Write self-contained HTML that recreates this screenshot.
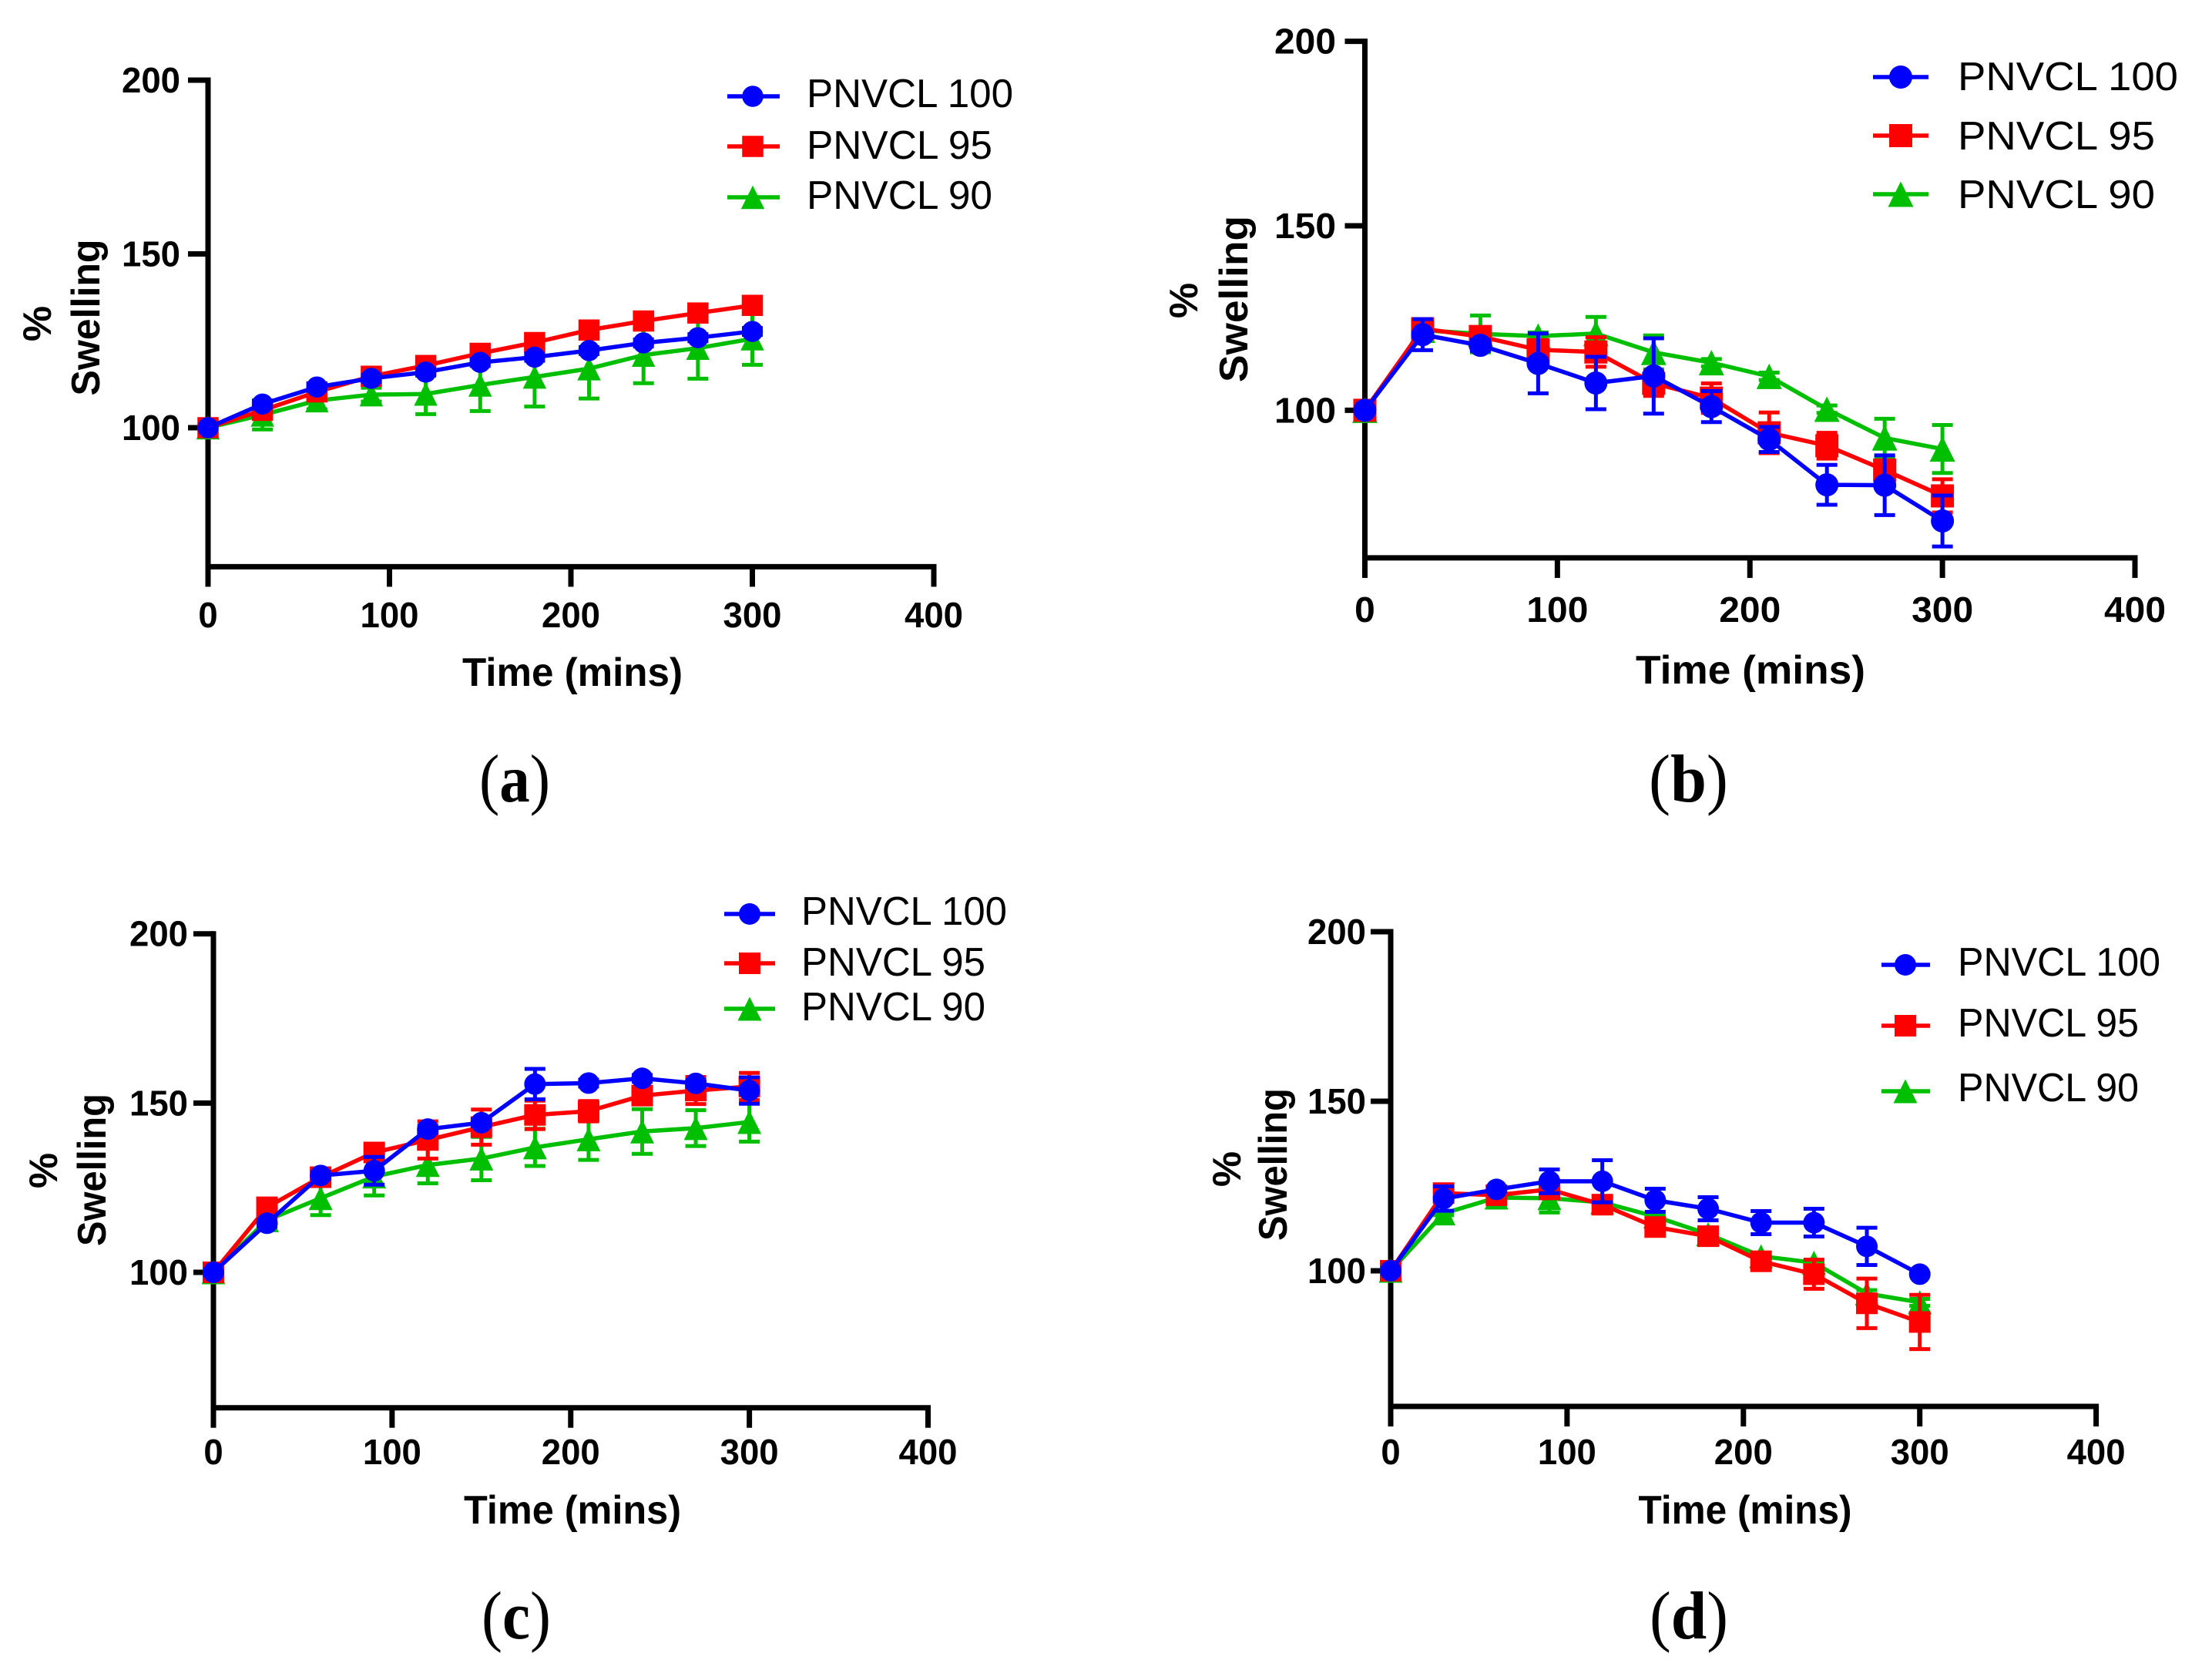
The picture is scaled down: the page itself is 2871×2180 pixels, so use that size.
<!DOCTYPE html>
<html lang="en">
<head>
<meta charset="utf-8">
<title>Swelling over time for PNVCL formulations</title>
<style>
html,body{margin:0;padding:0;background:#fff;width:2871px;height:2180px;overflow:hidden}
svg{display:block}
text{fill:#000;font-family:"Liberation Sans",Arial,sans-serif}
.title{font-weight:700;font-size:52px}
.legend{font-size:52px}
.tick{font-weight:700;font-size:46px}
.caption{font-family:"Liberation Serif",serif;font-weight:700;font-size:88px}
.caption tspan{font-weight:400}
</style>
</head>
<body>
<svg id="figure" xmlns="http://www.w3.org/2000/svg" width="2871" height="2180" viewBox="0 0 2871 2180">
  <rect x="0" y="0" width="2871" height="2180" fill="#fff"/>

  <g id="panel-a">
    <text class="title" x="743" y="890" text-anchor="middle" textLength="286" lengthAdjust="spacingAndGlyphs">Time (mins)</text>
    <text class="title" transform="translate(129 412) rotate(-90)" text-anchor="middle" textLength="203" lengthAdjust="spacingAndGlyphs">Swelling</text>
    <text class="title" transform="translate(66 420) rotate(-90)" text-anchor="middle">%</text>
    <text class="legend" x="1047" y="139" textLength="268" lengthAdjust="spacingAndGlyphs">PNVCL 100</text>
    <text class="legend" x="1047" y="206" textLength="241" lengthAdjust="spacingAndGlyphs">PNVCL 95</text>
    <text class="legend" x="1047" y="271" textLength="241" lengthAdjust="spacingAndGlyphs">PNVCL 90</text>
    <text class="caption" x="622" y="1040" textLength="92" lengthAdjust="spacingAndGlyphs"><tspan>(</tspan>a<tspan>)</tspan></text>
  </g>

  <g id="panel-b">
    <text class="title" x="2272" y="887" text-anchor="middle" textLength="298" lengthAdjust="spacingAndGlyphs">Time (mins)</text>
    <text class="title" transform="translate(1619 388) rotate(-90)" text-anchor="middle" textLength="216" lengthAdjust="spacingAndGlyphs">Swelling</text>
    <text class="title" transform="translate(1554 390) rotate(-90)" text-anchor="middle">%</text>
    <text class="legend" x="2541" y="117" textLength="286" lengthAdjust="spacingAndGlyphs">PNVCL 100</text>
    <text class="legend" x="2541" y="194" textLength="256" lengthAdjust="spacingAndGlyphs">PNVCL 95</text>
    <text class="legend" x="2541" y="270" textLength="256" lengthAdjust="spacingAndGlyphs">PNVCL 90</text>
    <text class="caption" x="2140" y="1040" textLength="103" lengthAdjust="spacingAndGlyphs"><tspan>(</tspan>b<tspan>)</tspan></text>
  </g>

  <g id="panel-c">
    <text class="title" x="743" y="1977" text-anchor="middle" textLength="282" lengthAdjust="spacingAndGlyphs">Time (mins)</text>
    <text class="title" transform="translate(137 1518) rotate(-90)" text-anchor="middle" textLength="198" lengthAdjust="spacingAndGlyphs">Swelling</text>
    <text class="title" transform="translate(74 1519) rotate(-90)" text-anchor="middle">%</text>
    <text class="legend" x="1040" y="1200" textLength="267" lengthAdjust="spacingAndGlyphs">PNVCL 100</text>
    <text class="legend" x="1040" y="1266" textLength="239" lengthAdjust="spacingAndGlyphs">PNVCL 95</text>
    <text class="legend" x="1040" y="1324" textLength="239" lengthAdjust="spacingAndGlyphs">PNVCL 90</text>
    <text class="caption" x="625" y="2126" textLength="90" lengthAdjust="spacingAndGlyphs"><tspan>(</tspan>c<tspan>)</tspan></text>
  </g>

  <g id="panel-d">
    <text class="title" x="2265" y="1977" text-anchor="middle" textLength="277" lengthAdjust="spacingAndGlyphs">Time (mins)</text>
    <text class="title" transform="translate(1670 1511) rotate(-90)" text-anchor="middle" textLength="198" lengthAdjust="spacingAndGlyphs">Swelling</text>
    <text class="title" transform="translate(1610 1517) rotate(-90)" text-anchor="middle">%</text>
    <text class="legend" x="2541" y="1266" textLength="263" lengthAdjust="spacingAndGlyphs">PNVCL 100</text>
    <text class="legend" x="2541" y="1345" textLength="235" lengthAdjust="spacingAndGlyphs">PNVCL 95</text>
    <text class="legend" x="2541" y="1429" textLength="235" lengthAdjust="spacingAndGlyphs">PNVCL 90</text>
    <text class="caption" x="2141" y="2126" textLength="102" lengthAdjust="spacingAndGlyphs"><tspan>(</tspan>d<tspan>)</tspan></text>
  </g>
</svg>

<script>
// ---- Shared axis data ----
const timeMinutes = [0, 30, 60, 90, 120, 150, 180, 210, 240, 270, 300];
const xTickValues = [0, 100, 200, 300, 400];
const yTickValues = [100, 150, 200];
const seriesNames = ['pnvcl-100', 'pnvcl-95', 'pnvcl-90'];

// ---- Panel (a) ----
const panelAValues100 = [100, 106.8, 111.7, 114.2, 116, 118.8, 120.3, 122.2, 124.4, 125.9, 127.7];
const panelAErrors100 = [0, 1, 1, 1, 1, 1, 1, 1, 1, 1, 1];
const panelAValues95 = [100, 105, 110.3, 114.8, 117.9, 121.4, 124.5, 128.1, 130.7, 133, 135.2];
const panelAErrors95 = [0, 1, 1, 1, 1, 1, 1, 1, 1, 1, 1];
const panelAValues90 = [100, 103.7, 107.8, 109.5, 109.7, 112.3, 114.6, 117, 120.9, 122.9, 125.6];
const panelAErrors90 = [0, 4.2, 2.5, 2, 5.8, 7.5, 8.5, 8.6, 8.1, 8.8, 7.5];

// ---- Panel (b) ----
const panelBValues100 = [100, 120.5, 117.6, 112.7, 107.4, 109.3, 101, 92.1, 79.8, 79.7, 70];
const panelBErrors100 = [0, 4.2, 1.5, 8.1, 7.1, 10.2, 4.2, 3.4, 5.4, 8.1, 6.9];
const panelBValues95 = [100, 122.1, 120, 116.4, 115.8, 107.3, 103.3, 93.9, 90.4, 83.8, 76.8];
const panelBErrors95 = [0, 2.5, 1, 2.5, 4, 3.4, 4, 5.5, 3.5, 2, 4.5];
const panelBValues90 = [100, 121.7, 120.7, 120.1, 120.8, 115.7, 112.9, 109.2, 100.3, 92.5, 89.5];
const panelBErrors90 = [0, 1, 5, 1, 4.5, 4.6, 1, 1, 1, 5.2, 6.5];

// ---- Panel (c) ----
const panelCValues100 = [100, 114.5, 128.6, 130, 142.3, 144.2, 155.6, 155.9, 157.3, 155.8, 153.7];
const panelCErrors100 = [0, 1, 1, 4.1, 1, 1, 4.5, 1, 1, 1, 3.9];
const panelCValues95 = [100, 119.2, 128.1, 135.4, 139.1, 142.9, 146.5, 147.6, 152.2, 153.7, 154.9];
const panelCErrors95 = [0, 1, 1, 1, 5.5, 5.2, 4.2, 3, 2.5, 4, 4];
const panelCValues90 = [100, 115.4, 121.9, 128.3, 131.7, 133.6, 136.9, 139.3, 141.6, 142.6, 144.4];
const panelCErrors90 = [0, 1, 5, 5.6, 5.4, 6.4, 5.5, 6.1, 6.6, 5.3, 5.8];

// ---- Panel (d) ----
const panelDValues100 = [100, 121.3, 124, 126.4, 126.4, 120.8, 118.3, 114.2, 114.2, 107.2, 99];
const panelDErrors100 = [0, 3.6, 0.5, 3.5, 6.2, 3.4, 3.4, 3.4, 4.1, 5.5, 0];
const panelDValues95 = [100, 122.9, 122.3, 124, 119.5, 112.9, 110.2, 102.8, 99, 90.4, 84.9];
const panelDErrors95 = [0, 2, 1, 1, 1, 1, 1, 1, 4.3, 7.3, 8];
const panelDValues90 = [100, 116.9, 121.6, 121.4, 120.2, 116, 110.8, 104.3, 102.4, 93.3, 90.7];
const panelDErrors90 = [0, 0.5, 0.5, 4.2, 0.5, 0.5, 0.5, 1, 0.5, 1, 1];

// ---- Layout (separate from data) ----
const SVG_NS = 'http://www.w3.org/2000/svg';
const Y_MIN = 60;
const COLORS = {'pnvcl-100': '#0000ff', 'pnvcl-95': '#ff0000', 'pnvcl-90': '#00bf00'};
const SHAPES = {'pnvcl-100': 'circle', 'pnvcl-95': 'square', 'pnvcl-90': 'triangle'};

const panelLayouts = {
  a: {id: 'panel-a', x0: 270, x400: 1212, y100: 555, y200: 104, tickRight: 234, tickBase: 814, tickW: 76, mk: 27.5,
      legX1: 944, legX2: 1012, legM: 977, legY: [125, 190, 256]},
  b: {id: 'panel-b', x0: 1771.5, x400: 2771, y100: 532.4, y200: 53.6, tickRight: 1734, tickBase: 807, tickW: 80, mk: 30,
      legX1: 2431, legX2: 2503, legM: 2467, legY: [100, 176, 252]},
  c: {id: 'panel-c', x0: 277, x400: 1204.5, y100: 1651, y200: 1211.7, tickRight: 244, tickBase: 1900, tickW: 76, mk: 28,
      legX1: 940, legX2: 1006, legM: 973, legY: [1186, 1250, 1309]},
  d: {id: 'panel-d', x0: 1805, x400: 2720.6, y100: 1649, y200: 1209, tickRight: 1773, tickBase: 1900, tickW: 76, mk: 28,
      legX1: 2442, legX2: 2505, legM: 2473, legY: [1252, 1331, 1416]}
};

function svgEl(tag, attrs, parent) {
  const el = document.createElementNS(SVG_NS, tag);
  for (const k in attrs) el.setAttribute(k, attrs[k]);
  parent.appendChild(el);
  return el;
}

function drawMarker(parent, shape, cx, cy, size, color) {
  const h = size / 2;
  let el;
  if (shape === 'circle') {
    el = svgEl('circle', {cx: cx, cy: cy, r: h, fill: color}, parent);
  } else if (shape === 'square') {
    el = svgEl('rect', {x: cx - h, y: cy - h, width: size, height: size, fill: color}, parent);
  } else {
    const t = h + 1.5;
    el = svgEl('polygon', {points: cx + ',' + (cy - t) + ' ' + (cx + t) + ',' + (cy + t) + ' ' + (cx - t) + ',' + (cy + t), fill: color}, parent);
  }
  
  
  return el;
}

function drawSeries(parent, name, values, errors, xScale, yScale, mk) {
  const color = COLORS[name];
  const g = svgEl('g', {}, parent);
  
  

  values.forEach(function (v, i) {
    const x = xScale(timeMinutes[i]);
    const e = errors[i];
    if (e <= 0) return;
    const eb = svgEl('path', {
      d: 'M' + x + ' ' + yScale(v + e) + 'V' + yScale(v - e) +
         'M' + (x - 13.5) + ' ' + yScale(v + e) + 'H' + (x + 13.5) +
         'M' + (x - 13.5) + ' ' + yScale(v - e) + 'H' + (x + 13.5),
      stroke: color, 'stroke-width': 5, fill: 'none'
    }, g);
    
    
  });

  const pts = values.map(function (v, i) { return xScale(timeMinutes[i]) + ',' + yScale(v); }).join(' ');
  const line = svgEl('polyline', {points: pts, fill: 'none', stroke: color, 'stroke-width': 5.5, 'stroke-linejoin': 'round'}, g);
  
  

  values.forEach(function (v, i) {
    drawMarker(g, SHAPES[name], xScale(timeMinutes[i]), yScale(v), mk, color);
  });
}

function drawPanel(layout, values100, errors100, values95, errors95, values90, errors90) {
  const root = document.getElementById(layout.id);
  const xScale = function (v) { return layout.x0 + v * (layout.x400 - layout.x0) / 400; };
  const yScale = function (v) { return layout.y100 - (v - 100) * (layout.y100 - layout.y200) / 100; };
  const axisBottom = yScale(Y_MIN);

  const yAxis = svgEl('line', {x1: layout.x0, x2: layout.x0, y1: yScale(200) - 3.5, y2: axisBottom + 3.5, stroke: '#000', 'stroke-width': 7}, root);
  
  
  const xAxis = svgEl('line', {x1: xScale(0) - 3.5, x2: xScale(400) + 3.5, y1: axisBottom, y2: axisBottom, stroke: '#000', 'stroke-width': 7}, root);
  
  

  xTickValues.forEach(function (v) {
    const t = svgEl('line', {x1: xScale(v), x2: xScale(v), y1: axisBottom, y2: axisBottom + 26, stroke: '#000', 'stroke-width': 7}, root);
    
    
    const label = svgEl('text', {'class': 'tick', x: xScale(v), y: layout.tickBase, 'text-anchor': 'middle', textLength: layout.tickW * String(v).length / 3, lengthAdjust: 'spacingAndGlyphs'}, root);
    label.textContent = String(v);
    
    
  });

  yTickValues.forEach(function (v) {
    const t = svgEl('line', {x1: layout.x0 - 26, x2: layout.x0, y1: yScale(v), y2: yScale(v), stroke: '#000', 'stroke-width': 7}, root);
    
    
    const label = svgEl('text', {'class': 'tick', x: layout.tickRight, y: yScale(v) + 16, 'text-anchor': 'end', textLength: layout.tickW, lengthAdjust: 'spacingAndGlyphs'}, root);
    label.textContent = String(v);
    
    
  });

  drawSeries(root, 'pnvcl-90', values90, errors90, xScale, yScale, layout.mk);
  drawSeries(root, 'pnvcl-95', values95, errors95, xScale, yScale, layout.mk);
  drawSeries(root, 'pnvcl-100', values100, errors100, xScale, yScale, layout.mk);

  seriesNames.forEach(function (name, i) {
    const y = layout.legY[i];
    const swatch = svgEl('g', {}, root);
    
    
    const sl = svgEl('line', {x1: layout.legX1, x2: layout.legX2, y1: y, y2: y, stroke: COLORS[name], 'stroke-width': 5.5}, swatch);
    
    
    drawMarker(swatch, SHAPES[name], layout.legM, y, layout.mk, COLORS[name]);
  });
}

drawPanel(panelLayouts.a, panelAValues100, panelAErrors100, panelAValues95, panelAErrors95, panelAValues90, panelAErrors90);
drawPanel(panelLayouts.b, panelBValues100, panelBErrors100, panelBValues95, panelBErrors95, panelBValues90, panelBErrors90);
drawPanel(panelLayouts.c, panelCValues100, panelCErrors100, panelCValues95, panelCErrors95, panelCValues90, panelCErrors90);
drawPanel(panelLayouts.d, panelDValues100, panelDErrors100, panelDValues95, panelDErrors95, panelDValues90, panelDErrors90);
</script>
</body>
</html>
